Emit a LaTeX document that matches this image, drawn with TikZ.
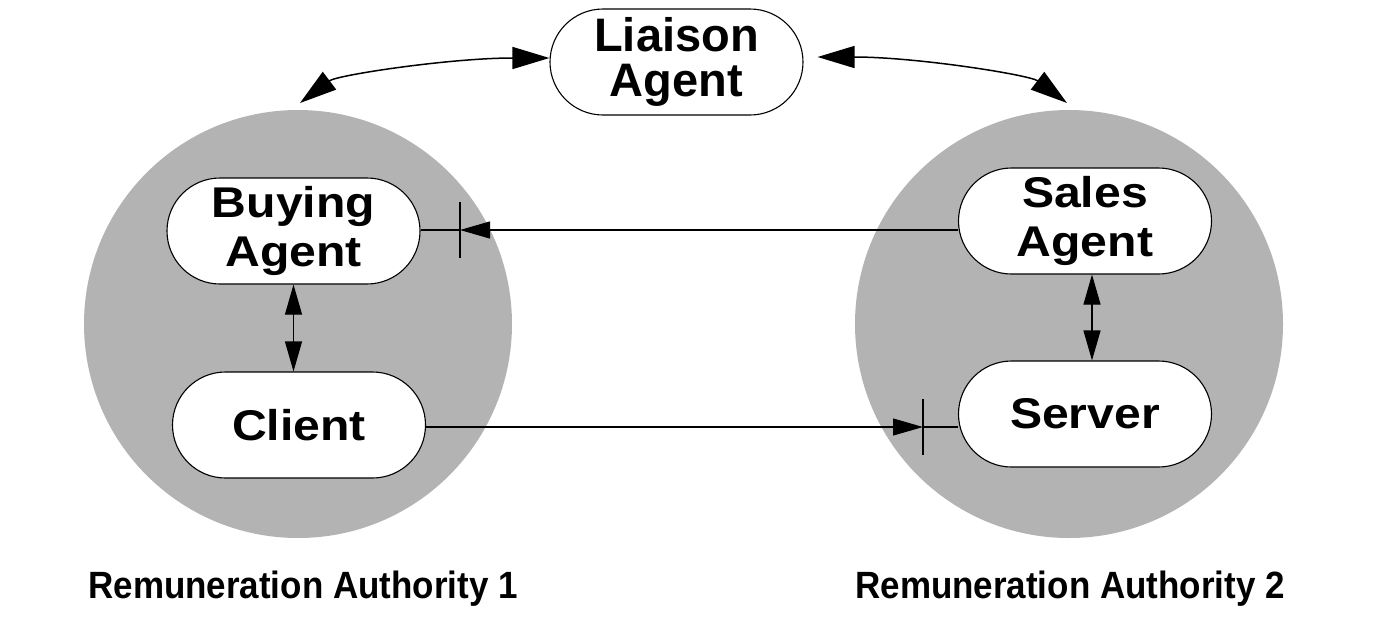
\documentclass[tikz,border=0pt]{standalone}
\usepackage{fontspec}
\setmainfont{Liberation Sans}
\newfontfamily\widesans{Liberation Sans}[FakeStretch=1.12]
\newfontfamily\narrowsans{Liberation Sans}[FakeStretch=0.92]
\usetikzlibrary{shapes.misc,arrows.meta}
\definecolor{authority}{RGB}{179,179,179}
\tikzset{
  agentbox/.style={rounded rectangle, draw=black, line width=1.1pt, fill=white,
    minimum width=253pt, minimum height=106pt, inner sep=0pt, align=center,
    font=\widesans\fontsize{43}{49}\selectfont\bfseries},
  liaisonbox/.style={agentbox, font=\fontsize{47}{45}\selectfont\bfseries},
  authorityarea/.style={fill=authority},
  captiontext/.style={inner sep=0pt, font=\narrowsans\fontsize{38}{42}\selectfont\bfseries},
  linkline/.style={line width=1.1pt},
  smalltip/.style={-{Triangle[length=30pt,width=17pt]}},
  bothtips/.style={{Triangle[length=30pt,width=17pt]}-{Triangle[length=30pt,width=17pt]}},
  bigtips/.style={line width=1.5pt,{Triangle[length=37pt,width=22pt]}-{Triangle[length=37pt,width=22pt]}},
  barmark/.style={line width=1.1pt}
}
\begin{document}
\begin{tikzpicture}[x=1pt,y=-1pt]
\useasboundingbox (0,0) rectangle (1376,633);

% the two authorities
\fill[authorityarea] (298,324) circle[radius=214pt];
\fill[authorityarea] (1069,324) circle[radius=214pt];

% agents
\node[liaisonbox] (liaison) at (676.5,62) {Liaison\\Agent};
\node[agentbox] (buy) at (293.5,231) {Buying\\Agent};
\node[agentbox] (client) at (299,425) {Client};
\node[agentbox] (sales) at (1085,221) {Sales\\Agent};
\node[agentbox] (server) at (1085,414) {Server};

% captions
\node[captiontext] (ra1) at (303,589) {Remuneration Authority 1};
\node[captiontext] (ra2) at (1070,589) {Remuneration Authority 2};

% links to the liaison agent
\coordinate (lend) at (300,103);
\coordinate (rend) at (1067,103);
\draw[bigtips] (lend) .. controls (337,75) and (450,58) .. ([yshift=4pt]liaison.west);
\draw[bigtips] ([xshift=14pt,yshift=5pt]liaison.east) .. controls (917,57) and (1030,75) .. (rend);

% links inside each authority
\draw[linkline,bothtips] (buy.south) -- (buy.south |- client.north);
\draw[linkline,bothtips] ([xshift=7pt]sales.south) -- ([xshift=7pt]sales.south |- server.north);

% sales agent to buying agent
\coordinate (barL) at (460,230);
\draw[linkline,smalltip] (sales.west |- barL) -- (barL);
\draw[linkline] (barL) -- (buy.east |- barL);
\draw[barmark] ([yshift=28pt]barL) -- ([yshift=-28pt]barL);

% client to server
\coordinate (barR) at (923,427);
\draw[linkline,smalltip] (client.east |- barR) -- (barR);
\draw[linkline] (barR) -- (server.west |- barR);
\draw[barmark] ([yshift=28pt]barR) -- ([yshift=-28pt]barR);
\end{tikzpicture}
\end{document}
